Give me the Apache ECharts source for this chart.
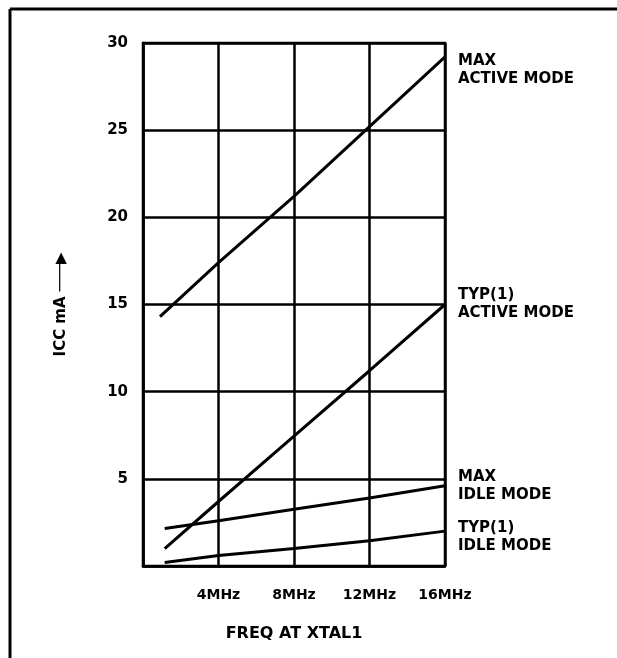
<!DOCTYPE html>
<html>
<head>
<meta charset="utf-8">
<script src="https://cdn.jsdelivr.net/npm/echarts@6/dist/echarts.min.js"></script>
<style>
  html, body { margin: 0; padding: 0; background: #fff; }
  #chart { width: 617px; height: 658px; }
</style>
</head>
<body>
<div id="chart"></div>
<script>
// ---- data ----
const xTicksMHz = [4, 8, 12, 16];
const freqMaxActive = [0.9, 4, 8, 12, 16];
const freqOthers = [1.15, 4, 8, 12, 16];
const maxActive = [14.3, 17.4, 21.2, 25.2, 29.2];
const typActive = [1.0, 3.7, 7.45, 11.2, 15.0];
const maxIdle = [2.15, 2.6, 3.25, 3.9, 4.6];
const typIdle = [0.2, 0.6, 1.0, 1.45, 2.0];
const seriesNames = ['MAX\nACTIVE MODE', 'TYP(1)\nACTIVE MODE', 'MAX\nIDLE MODE', 'TYP(1)\nIDLE MODE'];
const yAxisTitle = 'ICC mA ───▶';
const xAxisTitle = 'FREQ AT XTAL1';

const FONT = '"DejaVu Sans", "Liberation Sans", Arial, sans-serif';
const pairs = (xs, ys) => xs.map((x, i) => [x, ys[i]]);

const lineStyle = { color: '#000', width: 3 };
function mk(name, xs, ys, dy) {
  return {
    type: 'line',
    name: name,
    data: pairs(xs, ys),
    showSymbol: false,
    symbol: 'none',
    lineStyle: lineStyle,
    itemStyle: { color: '#000' },
    z: 5,
    endLabel: {
      show: true,
      formatter: name,
      distance: 13,
      offset: [0, dy],
      align: 'left',
      color: '#000',
      fontFamily: FONT,
      fontWeight: 'bold',
      fontSize: 15,
      lineHeight: 18
    }
  };
}

const chart = echarts.init(document.getElementById('chart'), null, { renderer: 'canvas' });
chart.setOption({
  animation: false,
  backgroundColor: '#fff',
  grid: {
    left: 143, right: 172, top: 43, bottom: 92,
    show: true, borderColor: '#000', borderWidth: 2.5, backgroundColor: 'transparent'
  },
  xAxis: {
    type: 'value',
    min: 0, max: 16, interval: 4,
    name: xAxisTitle,
    nameLocation: 'middle',
    nameGap: 60,
    nameTextStyle: { color: '#000', fontFamily: FONT, fontWeight: 'bold', fontSize: 16 },
    axisLine: { show: true, lineStyle: { color: '#000', width: 2.5 } },
    axisTick: { show: false },
    splitLine: { show: true, lineStyle: { color: '#000', width: 2.5 } },
    axisLabel: {
      margin: 22,
      color: '#000', fontFamily: FONT, fontWeight: 'bold', fontSize: 14,
      formatter: v => (xTicksMHz.indexOf(v) >= 0 ? v + 'MHz' : '')
    }
  },
  yAxis: {
    type: 'value',
    min: 0, max: 30, interval: 5,
    name: yAxisTitle,
    nameLocation: 'middle',
    nameGap: 74,
    nameRotate: 90,
    nameTextStyle: { color: '#000', fontFamily: FONT, fontWeight: 'bold', fontSize: 15 },
    axisLine: { show: true, lineStyle: { color: '#000', width: 2.5 } },
    axisTick: { show: false },
    splitLine: { show: true, lineStyle: { color: '#000', width: 2.5 } },
    axisLabel: {
      margin: 15,
      color: '#000', fontFamily: FONT, fontWeight: 'bold', fontSize: 15,
      formatter: v => (v === 0 ? '' : String(v))
    }
  },
  graphic: [
    { type: 'line', shape: { x1: 10, y1: 9, x2: 617, y2: 9 }, style: { stroke: '#000', lineWidth: 3 } },
    { type: 'line', shape: { x1: 10, y1: 9, x2: 10, y2: 658 }, style: { stroke: '#000', lineWidth: 3 } }
  ],
  series: [
    mk(seriesNames[0], freqMaxActive, maxActive, 13),
    mk(seriesNames[1], freqOthers, typActive, 0),
    mk(seriesNames[2], freqOthers, maxIdle, 0),
    mk(seriesNames[3], freqOthers, typIdle, 6)
  ]
});
</script>
</body>
</html>
